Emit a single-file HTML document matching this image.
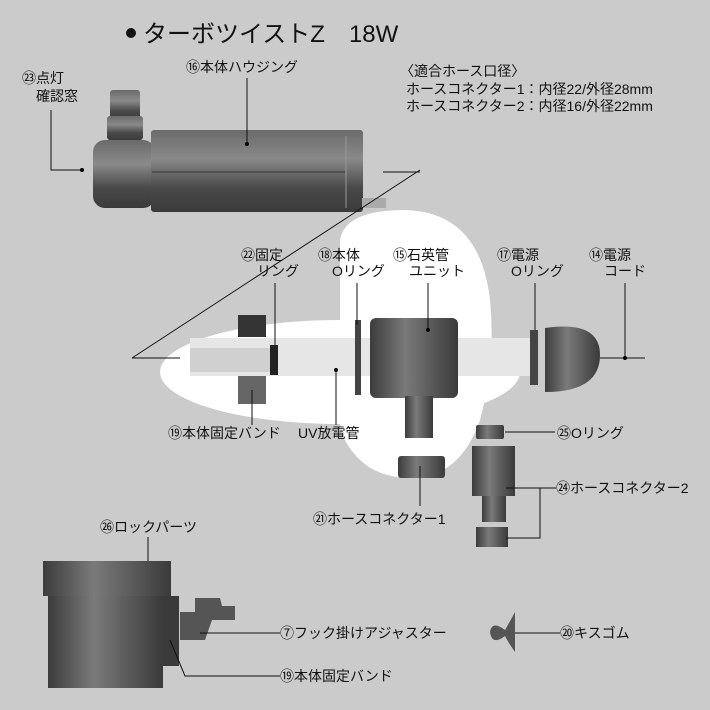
<!DOCTYPE html>
<html><head><meta charset="utf-8"><style>
body{margin:0;background:#cbcbcb}
svg{display:block}
text{font-family:"Liberation Sans","Noto Sans CJK JP",sans-serif;fill:#111}
</style></head><body>
<svg width="710" height="710" viewBox="0 0 710 710">
<defs>
<linearGradient id="g" x1="0" y1="0" x2="0" y2="1"><stop offset="0" stop-color="#6a6a6a"/><stop offset=".35" stop-color="#8a8a8a"/><stop offset=".7" stop-color="#4a4a4a"/><stop offset="1" stop-color="#3a3a3a"/></linearGradient>
<linearGradient id="gh" x1="0" y1="0" x2="1" y2="0"><stop offset="0" stop-color="#3c3c3c"/><stop offset=".4" stop-color="#7a7a7a"/><stop offset="1" stop-color="#3a3a3a"/></linearGradient>
</defs>
<rect width="710" height="710" fill="#cbcbcb"/>
<ellipse cx="340" cy="372" rx="180" ry="52" fill="#fff"/>
<path d="M340 240 Q345 210 405 210 Q480 212 490 300 Q496 360 480 420 Q460 478 410 478 Q360 478 340 430 Z" fill="#fff"/>
<circle cx="131" cy="33" r="5" fill="#111"/>
<text x="143" y="42" font-size="24">ターボツイストZ　18W</text>
<text x="400" y="76" font-size="14">〈適合ホース口径〉</text>
<text x="406" y="94" font-size="14">ホースコネクター1：内径22/外径28mm</text>
<text x="406" y="111" font-size="14">ホースコネクター2：内径16/外径22mm</text>
<rect x="110" y="90" width="30" height="30" rx="3" fill="url(#g)"/>
<rect x="107" y="116" width="36" height="24" rx="3" fill="url(#g)"/>
<rect x="93" y="140" width="62" height="68" rx="12" fill="url(#g)"/>
<rect x="151" y="130" width="212" height="82" rx="3" fill="url(#g)"/>
<line x1="152" y1="172" x2="345" y2="172" stroke="#333"/>
<line x1="346" y1="136" x2="346" y2="208" stroke="#999"/>
<rect x="362" y="198" width="24" height="10" fill="#aaa"/>
<text x="186" y="72" font-size="14">⑯本体ハウジング</text>
<line x1="247" y1="78" x2="247" y2="144" stroke="#111"/><circle cx="247" cy="144" r="2"/>
<text x="22" y="83" font-size="14">㉓点灯</text>
<text x="36" y="101" font-size="14">確認窓</text>
<polyline points="51,110 51,170 82,170" fill="none" stroke="#111"/><circle cx="82" cy="170" r="2"/>
<line x1="132" y1="358" x2="420" y2="170" stroke="#111"/>
<line x1="383" y1="172" x2="420" y2="172" stroke="#111"/>
<line x1="132" y1="358" x2="180" y2="358" stroke="#111"/>
<rect x="190" y="338" width="340" height="38" fill="#e6e6e6"/>
<rect x="190" y="348" width="80" height="24" fill="#d0d0d0"/>
<rect x="238" y="315" width="28" height="22" fill="#333"/>
<rect x="238" y="376" width="28" height="28" fill="#666"/>
<rect x="270" y="345" width="8" height="30" fill="#222"/>
<rect x="355" y="320" width="6" height="75" fill="#444"/>
<rect x="370" y="318" width="88" height="80" rx="6" fill="url(#gh)"/>
<rect x="405" y="396" width="28" height="42" fill="url(#gh)"/>
<rect x="530" y="330" width="8" height="55" fill="#444"/>
<path d="M545 328 Q600 320 600 355 Q600 392 545 392 Z" fill="url(#gh)"/>
<line x1="600" y1="358" x2="645" y2="358" stroke="#111"/>
<text x="241" y="260" font-size="14">㉒固定</text><text x="257" y="276" font-size="14">リング</text>
<line x1="275" y1="283" x2="275" y2="345" stroke="#111"/>
<text x="318" y="260" font-size="14">⑱本体</text><text x="332" y="276" font-size="14">Oリング</text>
<line x1="357" y1="283" x2="357" y2="325" stroke="#111"/>
<text x="393" y="260" font-size="14">⑮石英管</text><text x="409" y="276" font-size="14">ユニット</text>
<line x1="428" y1="283" x2="428" y2="330" stroke="#111"/><circle cx="428" cy="330" r="2"/>
<text x="497" y="260" font-size="14">⑰電源</text><text x="511" y="276" font-size="14">Oリング</text>
<line x1="535" y1="283" x2="535" y2="330" stroke="#111"/>
<text x="589" y="260" font-size="14">⑭電源</text><text x="604" y="276" font-size="14">コード</text>
<line x1="625" y1="283" x2="625" y2="358" stroke="#111"/><circle cx="625" cy="358" r="2"/>
<text x="168" y="438" font-size="14">⑲本体固定バンド</text>
<line x1="252" y1="390" x2="252" y2="425" stroke="#111"/>
<text x="298" y="438" font-size="14">UV放電管</text>
<line x1="336" y1="370" x2="336" y2="425" stroke="#111"/><circle cx="336" cy="370" r="2"/>
<rect x="476" y="425" width="28" height="14" rx="2" fill="url(#gh)"/>
<line x1="505" y1="432" x2="555" y2="432" stroke="#111"/>
<text x="557" y="438" font-size="14">㉕Oリング</text>
<rect x="472" y="446" width="43" height="50" fill="url(#gh)"/>
<rect x="482" y="496" width="24" height="26" fill="url(#gh)"/>
<rect x="476" y="527" width="32" height="20" fill="url(#gh)"/>
<polyline points="506,488 540,488 540,538 506,538" fill="none" stroke="#111"/>
<line x1="540" y1="488" x2="556" y2="488" stroke="#111"/>
<text x="556" y="493" font-size="14">㉔ホースコネクター2</text>
<rect x="398" y="456" width="47" height="22" rx="3" fill="url(#gh)"/>
<line x1="420" y1="466" x2="420" y2="506" stroke="#111"/>
<text x="313" y="524" font-size="14">㉑ホースコネクター1</text>
<text x="100" y="532" font-size="14">㉖ロックパーツ</text>
<line x1="148" y1="537" x2="148" y2="575" stroke="#111"/>
<rect x="43" y="561" width="128" height="35" fill="url(#gh)"/>
<rect x="48" y="596" width="115" height="92" fill="url(#gh)"/>
<rect x="163" y="596" width="16" height="70" fill="#3a3a3a"/>
<path d="M180 612 L195 612 L195 598 L220 598 L222 606 L235 606 L235 620 L212 620 L205 640 L180 640 Z" fill="#555"/>
<line x1="200" y1="633" x2="280" y2="633" stroke="#111"/>
<text x="280" y="638" font-size="14">⑦フック掛けアジャスター</text>
<polyline points="170,640 185,676 280,676" fill="none" stroke="#111"/>
<text x="280" y="681" font-size="14">⑲本体固定バンド</text>
<path d="M515 612 Q508 625 505 630 Q492 620 490 632 Q492 646 505 636 Q508 642 515 652 Z" fill="#555"/>
<line x1="515" y1="633" x2="560" y2="633" stroke="#111"/>
<text x="560" y="638" font-size="14">⑳キスゴム</text>
</svg>
</body></html>
